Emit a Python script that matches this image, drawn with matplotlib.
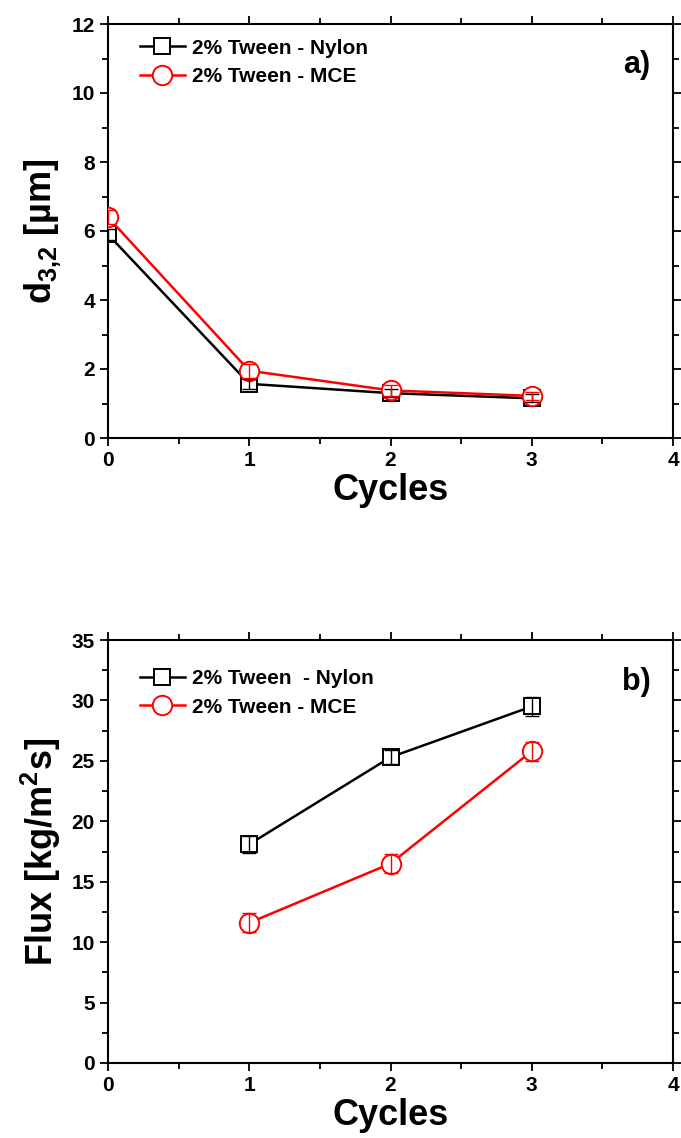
import matplotlib
matplotlib.use("Agg")
import matplotlib.pyplot as plt
from matplotlib.ticker import MultipleLocator

main_font = 'Liberation Sans'
plt.rcParams['font.family'] = [main_font, 'DejaVu Sans']
plt.rcParams['font.weight'] = 'bold'
plt.rcParams['mathtext.fontset'] = 'custom'
plt.rcParams['mathtext.rm'] = main_font + ':bold'
plt.rcParams['mathtext.it'] = main_font + ':bold'
plt.rcParams['mathtext.bf'] = main_font + ':bold'
plt.rcParams['mathtext.default'] = 'regular'

# Panel a) d3,2 vs cycles
cycles_a = [0, 1, 2, 3]
nylon_d32 = [5.9, 1.57, 1.3, 1.15]
nylon_d32_err = [0.15, 0.15, 0.12, 0.12]
mce_d32 = [6.4, 1.95, 1.38, 1.22]
mce_d32_err = [0.2, 0.2, 0.15, 0.12]

# Panel b) flux vs cycles
cycles_b = [1, 2, 3]
nylon_flux = [18.1, 25.3, 29.5]
nylon_flux_err = [0.7, 0.6, 0.8]
mce_flux = [11.6, 16.5, 25.8]
mce_flux_err = [0.8, 0.8, 0.8]

labels_a = ['2% Tween - Nylon', '2% Tween - MCE']
labels_b = ['2% Tween  - Nylon', '2% Tween - MCE']

fig = plt.figure(figsize=(6.81, 11.38), dpi=100)
W, H = 681, 1138
ax1 = fig.add_axes([108 / W, 1 - 438 / H, 565 / W, 414 / H])
ax2 = fig.add_axes([108 / W, 1 - 1063 / H, 565 / W, 423 / H])

tick_fs = 15
lab_fs = 26
leg_fs = 15
pan_fs = 22


def draw(ax, x, ys, errs, labels, ms_sq, ms_ci):
    styles = [('black', 's', ms_sq), ('red', 'o', ms_ci)]
    for y, e, lab, (c, m, ms) in zip(ys, errs, labels, styles):
        ax.plot(x, y, color=c, marker=m, markersize=ms, markerfacecolor='white',
                markeredgecolor=c, markeredgewidth=1.4, linewidth=1.8, label=lab, zorder=3)
        ax.errorbar(x, y, yerr=e, fmt='none', ecolor=c, elinewidth=1.0,
                    capsize=5, capthick=1.0, zorder=4)


draw(ax1, cycles_a, [nylon_d32, mce_d32], [nylon_d32_err, mce_d32_err], labels_a, 12, 14)
draw(ax2, cycles_b, [nylon_flux, mce_flux], [nylon_flux_err, mce_flux_err], labels_b, 12, 14)

for ax, anchor in ((ax1, (0.03, 1.0)), (ax2, (0.03, 0.965))):
    ax.set_xlim(0, 4)
    ax.xaxis.set_major_locator(MultipleLocator(1))
    ax.xaxis.set_minor_locator(MultipleLocator(0.5))
    ax.tick_params(which='both', direction='out', width=1.3, top=True, right=True)
    ax.tick_params(which='major', length=6, labelsize=tick_fs)
    ax.tick_params(which='minor', length=4)
    for sp in ax.spines.values():
        sp.set_linewidth(1.5)
    for lbl in ax.get_xticklabels() + ax.get_yticklabels():
        lbl.set_fontweight('bold')
    ax.set_xlabel('Cycles', fontsize=lab_fs, fontweight='bold', labelpad=2)
    ax.legend(loc='upper left', frameon=False, fontsize=leg_fs, handlelength=2.2,
              handletextpad=0.3, labelspacing=0.45, borderaxespad=0.3,
              bbox_to_anchor=anchor)

ax1.set_ylim(0, 12)
ax1.yaxis.set_major_locator(MultipleLocator(2))
ax1.yaxis.set_minor_locator(MultipleLocator(1))
ax1.set_ylabel('d$_{3{,}2}$ [µm]', fontsize=lab_fs, fontweight='bold', labelpad=6)
ax1.text(0.96, 0.9, 'a)', transform=ax1.transAxes, fontsize=pan_fs, fontweight='bold',
         ha='right', va='center')

ax2.set_ylim(0, 35)
ax2.yaxis.set_major_locator(MultipleLocator(5))
ax2.yaxis.set_minor_locator(MultipleLocator(2.5))
ax2.set_ylabel('Flux [kg/m$^2$s]', fontsize=lab_fs, fontweight='bold', labelpad=6)
ax2.text(0.96, 0.9, 'b)', transform=ax2.transAxes, fontsize=pan_fs, fontweight='bold',
         ha='right', va='center')

fig.savefig('out.png', dpi=100)
